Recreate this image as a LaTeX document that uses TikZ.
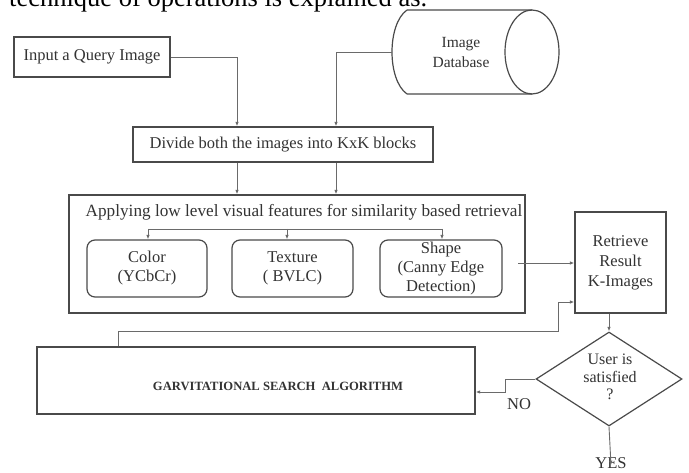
\documentclass[tikz,border=0pt]{standalone}
\usepackage{fontspec}
\setmainfont{Liberation Serif}
\usetikzlibrary{shapes.geometric, arrows.meta, calc}
\definecolor{ink}{HTML}{333333}
\definecolor{edgec}{HTML}{4A4A4A}
\definecolor{wire}{HTML}{6A6A6A}
\begin{document}
\begin{tikzpicture}[x=1pt,y=-1pt,
  box/.style={draw=edgec, line width=1.3pt, inner sep=0pt, text=ink, align=center, font=\fontsize{16.5}{19}\selectfont},
  rbox/.style={box, rounded corners=8pt, line width=1.2pt},
  lbl/.style={text=ink, inner sep=0pt, align=center, font=\fontsize{16.5}{19}\selectfont},
  wirestyle/.style={draw=wire, line width=0.9pt, -{Latex[length=4.5pt,width=3.5pt]}},
  plainwire/.style={draw=wire, line width=0.9pt}
]
\useasboundingbox (0,0) rectangle (689,473);
\fill[white] (0,0) rectangle (689,473);
\begin{scope}
\clip (0,0) rectangle (689,473);
\node[anchor=base west, inner sep=0pt, font=\fontsize{26.5}{30}\selectfont] (cap) at (9,7) {technique of operations is explained as.};
\end{scope}

% cylinder
\draw[edgec, line width=1.2pt] (407,10) -- (532,10)
  (407,94) -- (532,94)
  (407,10) .. controls (387,24) and (387,80) .. (407,94);
\draw[edgec, line width=1.2pt] (532,52) ellipse [x radius=27pt, y radius=42pt];
\coordinate (cylW) at (392,52);
\node[lbl, font=\fontsize{15.5}{20}\selectfont] (db) at (461,53) {Image\\Database};

% boxes
\node[box, minimum width=156pt, minimum height=40pt] (inp) at (92,57) {Input a Query Image};
\node[box, minimum width=300pt, minimum height=35pt] (div) at (283,144.5) {Divide both the images into KxK blocks};
\node[box, minimum width=456pt, minimum height=118pt] (big) at (297,254) {};
\node[lbl, font=\fontsize{17.2}{19}\selectfont] (title) at (304,212) {Applying low level visual features for similarity based retrieval};
\node[rbox, minimum width=120pt, minimum height=57pt] (color) at (147,268.5) {Color\\(YCbCr)};
\node[rbox, minimum width=121pt, minimum height=57pt] (texture) at (292.5,268.5) {Texture\\( BVLC)};
\node[rbox, minimum width=122pt, minimum height=57pt] (shape) at (441,268.5) {Shape\\(Canny Edge\\Detection)};
\node[box, minimum width=91pt, minimum height=101pt, font=\fontsize{16.5}{20}\selectfont] (ret) at (620.5,262.5) {Retrieve\\Result\\K-Images};
\node[draw=edgec, line width=1.2pt, diamond, inner sep=0pt, minimum width=146pt, minimum height=94pt] (dia) at (609,379) {};
\node[lbl, font=\fontsize{16}{17.5}\selectfont] (diat) at (610,377) {User is\\satisfied\\?};
\node[box, minimum width=438pt, minimum height=67pt] (gsa) at (256,380.5) {};
\node[lbl, font=\fontsize{12.6}{14}\selectfont\bfseries] (gsat) at (278,386) {GARVITATIONAL SEARCH\ \ ALGORITHM};
\node[lbl] (no) at (519,404) {NO};
\node[lbl] (yes) at (611,463) {YES};

% helper coordinates
\coordinate (colA) at (237,0);
\coordinate (colB) at (336,0);
\coordinate (brL) at (148,229);
\coordinate (brM) at (287,229);
\coordinate (brR) at (442,229);
\coordinate (sOut) at (518,263);
\coordinate (noBend) at (505,392);
\coordinate (fbA) at (118,331);
\coordinate (fbB) at (558,302);

% connectors
\draw[wirestyle] (inp.east) -| (colA |- div.north);
\draw[wirestyle] (cylW) -| (colB |- div.north);
\draw[wirestyle] (colA |- div.south) -- (colA |- big.north);
\draw[wirestyle] (colB |- div.south) -- (colB |- big.north);
\draw[plainwire] (brL) -- (brR);
\draw[wirestyle] (brL) -- (brL |- color.north);
\draw[wirestyle] (brM) -- (brM |- texture.north);
\draw[wirestyle] (brR) -- (brR |- shape.north);
\draw[wirestyle] (sOut) -- (sOut -| ret.west);
\draw[wirestyle] (dia.north |- ret.south) -- (dia.north);
\draw[wirestyle] (dia.west) -| (noBend) -- (noBend -| gsa.east);
\draw[wirestyle] (dia.south) -- ($(yes.north)+(0,8)$);
\draw[wirestyle] (fbA |- gsa.north) -- (fbA) -| (fbB) -- (fbB -| ret.west);
\end{tikzpicture}
\end{document}
